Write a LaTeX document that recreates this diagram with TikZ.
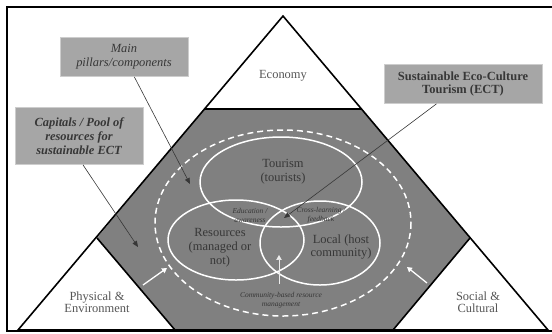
\documentclass[tikz,border=0pt]{standalone}
\usepackage{fontspec}
\setmainfont{Liberation Serif}
\usepackage{tikz}
\usetikzlibrary{
    arrows.meta
}
\definecolor{PanelGray}{RGB}{128,128,128}
\definecolor{BoxGray}{RGB}{166,166,166}
\definecolor{BoxEdge}{RGB}{205,205,205}
\definecolor{InkGray}{RGB}{55,55,55}
\definecolor{SoftInk}{RGB}{85,85,85}

\tikzset{
    calloutbox/.style={
        fill=BoxGray,
        draw=BoxEdge,
        line width=0.8pt,
        align=center,
        text=InkGray,
        inner sep=2pt,
        font=\fontsize{12.5}{14}\selectfont
    },
    pointer/.style={
        -{Triangle[length=6pt,width=5pt]},
        InkGray,
        line width=0.6pt
    },
    liftarrow/.style={
        -{Triangle[length=5pt,width=5.5pt]},
        white,
        line width=1.3pt
    },
    ringline/.style={
        white,
        line width=1.5pt
    },
    cornerlabel/.style={
        align=center,
        text=SoftInk,
        font=\fontsize{12.5}{12}\selectfont
    },
    pillarlabel/.style={
        align=center,
        text=InkGray,
        font=\fontsize{12.5}{14}\selectfont
    },
    linklabel/.style={
        align=center,
        text=InkGray,
        font=\fontsize{7.5}{9}\selectfont\itshape
    }
}

\begin{document}
\begin{tikzpicture}[x=1bp,y=-1bp]
%
    \useasboundingbox
    (0,0)
    rectangle
    (552,333);
%
    \fill[
        PanelGray
    ]
    (204,109)
    --
    (362,109)
    --
    (470,238)
    --
    (393,330)
    --
    (175,330)
    --
    (97,238)
    --
    cycle;
%
    \draw[
        ringline,
        dashed,
        dash pattern=on 6pt off 4pt
    ]
    (283,223)
    ellipse [x radius=128, y radius=93];
%
    \draw[
        ringline
    ]
    (281,182)
    ellipse [x radius=81, y radius=45];
%
    \draw[
        ringline
    ]
    (236,240)
    ellipse [x radius=68, y radius=40];
%
    \draw[
        ringline
    ]
    (320,243)
    ellipse [x radius=60, y radius=42];
%
    \draw[
        line width=1.6pt,
        line join=miter
    ]
    (283,16)
    --
    (548,330)
    --
    (18,330)
    --
    cycle;
%
    \draw[
        line width=1.6pt
    ]
    (204,109)
    --
    (362,109);
%
    \draw[
        line width=1.6pt
    ]
    (97,238)
    --
    (175,330);
%
    \draw[
        line width=1.6pt
    ]
    (470,238)
    --
    (393,330);
%
    \draw[
        line width=2pt
    ]
    (560,7)
    --
    (7,7)
    --
    (7,331)
    --
    (560,331);
%
    \node[cornerlabel] (economy) at (283,76) {Economy};
    \node[cornerlabel] (physical) at (97,302) {Physical \&\\Environment};
    \node[cornerlabel] (social) at (478,302) {Social \&\\Cultural};
%
    \node[pillarlabel] (tourism) at (283,172) {Tourism\\(tourists)};
    \node[pillarlabel] (resources) at (220,248) {Resources\\(managed or\\not)};
    \node[pillarlabel] (local) at (341,247) {Local (host\\community)};
%
    \node[linklabel] (education) at (250,215) {Education /\\awareness};
    \node[linklabel] (crosslearn) at (321,215) {Cross-learning /\\feedback};
    \node[linklabel] (cbrm) at (281,300) {Community-based resource\\management};
%
    \node[
        calloutbox,
        minimum width=128bp,
        minimum height=39bp,
        font=\fontsize{12.5}{14}\selectfont\itshape
    ]
    (pillarsbox) at (124,57) {
        Main\\pillars/components
    };
%
    \node[
        calloutbox,
        minimum width=128bp,
        minimum height=57bp,
        font=\fontsize{12.5}{14}\selectfont\bfseries\itshape
    ]
    (capitalsbox) at (79,136) {
        Capitals / Pool of\\resources for\\sustainable ECT
    };
%
    \node[
        calloutbox,
        minimum width=158bp,
        minimum height=39bp,
        font=\fontsize{12.5}{14}\selectfont\bfseries
    ]
    (ectbox) at (463,84) {
        Sustainable Eco-Culture\\Tourism (ECT)
    };
%
    \coordinate (pillarstip) at (190,184);
    \coordinate (capitalstip) at (138,247);
    \coordinate (ecttip) at (284,218);
%
    \draw[pointer] (pillarsbox) -- (pillarstip);
    \draw[pointer] ([xshift=4bp]capitalsbox.south) -- (capitalstip);
    \draw[pointer] (ectbox) -- (ecttip);
%
    \coordinate (leftfoot) at (143,285);
    \coordinate (lefthead) at (167,268);
    \coordinate (rightfoot) at (427,283);
    \coordinate (righthead) at (407,267);
    \coordinate (midfoot) at (279,284);
    \coordinate (midhead) at (279,255);
%
    \draw[liftarrow] (leftfoot) -- (lefthead);
    \draw[liftarrow] (rightfoot) -- (righthead);
    \draw[
        liftarrow,
        line width=0.7pt,
        white!85!gray
    ]
    (midfoot) -- (midhead);
%
\end{tikzpicture}
\end{document}
